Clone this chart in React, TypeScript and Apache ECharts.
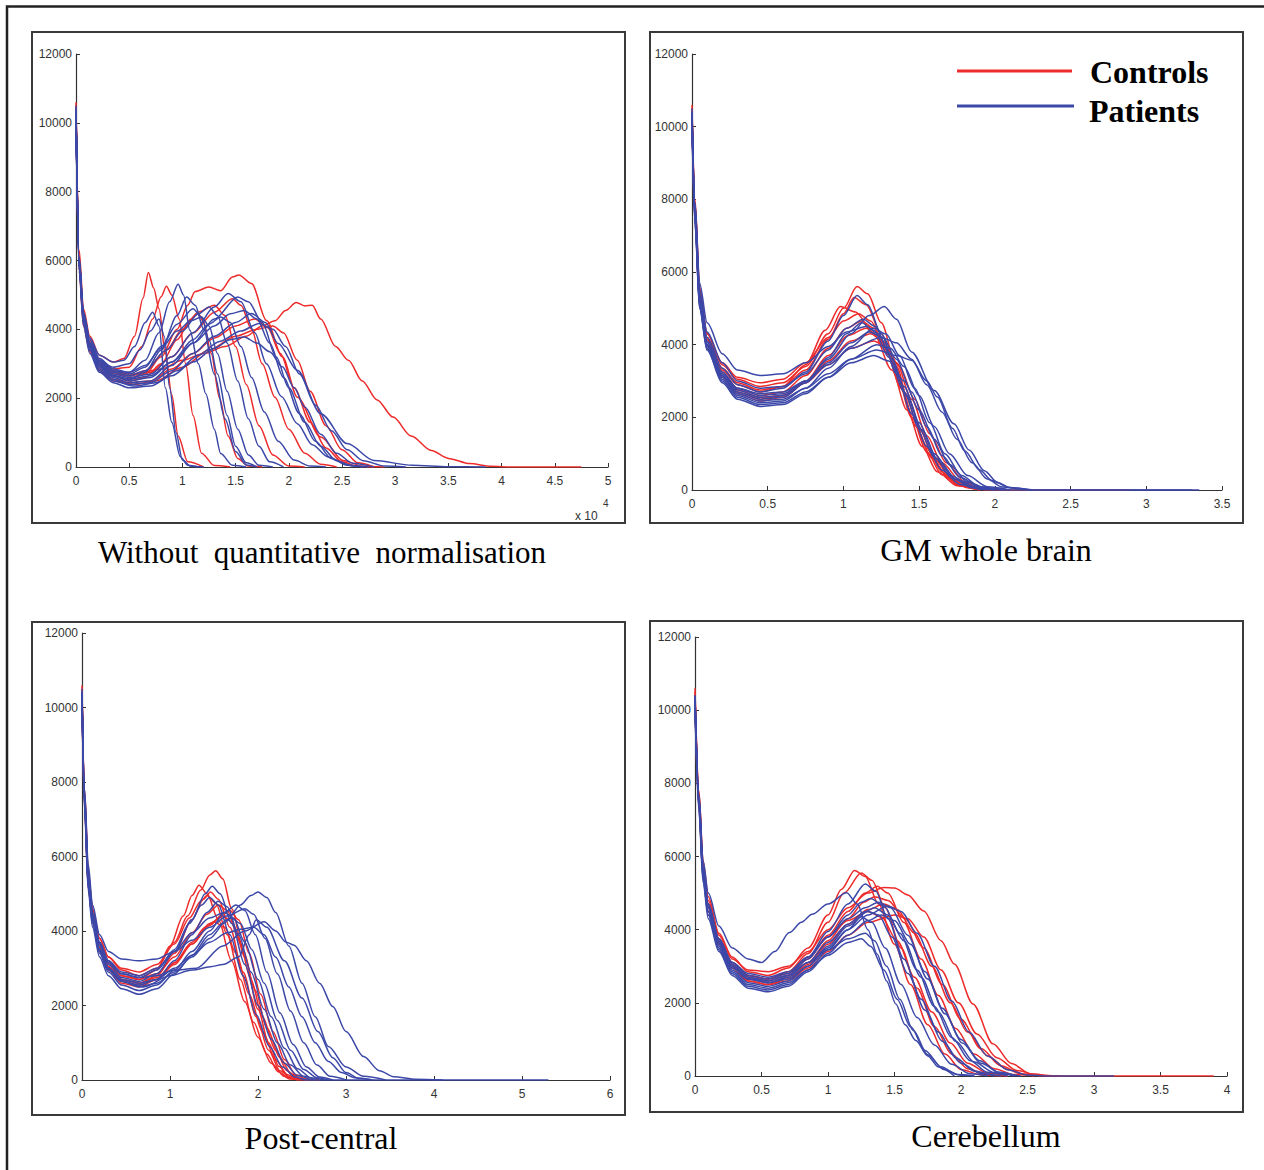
import React, { useEffect, useRef } from "react";
import * as echarts from "echarts";

const RED = "#ee2b2b";
const BLUE = "#3c48a8";

// ---------- Panel 1: Without quantitative normalisation (x in units of 10^4) ----------
const p1Controls: number[][] = [
  [0,10500, 0.03,6300, 0.07,4600, 0.13,3800, 0.22,3250, 0.35,3050, 0.45,3150, 0.55,3800, 0.63,4900, 0.68,5650, 0.73,5200, 0.78,4600, 0.84,3300, 0.9,2100, 0.96,900, 1.05,150, 1.2,0],
  [0,10300, 0.03,6000, 0.07,4400, 0.13,3650, 0.22,3100, 0.35,2850, 0.5,2900, 0.62,3500, 0.72,4300, 0.8,4950, 0.85,5250, 0.9,5000, 0.97,4300, 1.03,3000, 1.1,1500, 1.18,400, 1.3,40, 1.45,0],
  [0,10600, 0.03,6100, 0.07,4300, 0.13,3500, 0.22,2950, 0.35,2650, 0.5,2550, 0.65,2700, 0.8,3200, 0.95,4000, 1.05,4700, 1.12,5100, 1.25,5230, 1.36,5120, 1.47,5520, 1.53,5580, 1.65,5330, 1.79,4260, 1.94,3200, 2.08,2030, 2.3,870, 2.51,190, 2.7,20, 2.9,0],
  [0,10400, 0.03,6000, 0.07,4300, 0.13,3500, 0.22,3000, 0.35,2750, 0.55,2700, 0.8,2850, 1.0,3100, 1.2,3300, 1.4,3500, 1.6,3800, 1.75,4100, 1.87,4250, 1.97,4550, 2.07,4780, 2.15,4680, 2.22,4700, 2.3,4300, 2.44,3500, 2.56,3100, 2.69,2500, 2.83,1950, 2.98,1450, 3.15,900, 3.34,480, 3.5,250, 3.7,100, 3.9,20, 4.1,0, 4.75,0],
  [0,10200, 0.03,5900, 0.07,4300, 0.13,3500, 0.22,2950, 0.35,2650, 0.5,2500, 0.65,2600, 0.8,3000, 0.95,3700, 1.08,4300, 1.15,4460, 1.2,4200, 1.27,3300, 1.35,2000, 1.43,900, 1.52,250, 1.62,30, 1.75,0],
  [0,10500, 0.03,6000, 0.07,4400, 0.13,3600, 0.22,3050, 0.35,2750, 0.5,2650, 0.7,2750, 0.9,3200, 1.1,3900, 1.3,4500, 1.47,4890, 1.55,4700, 1.65,4000, 1.75,3000, 1.87,2030, 2.0,1100, 2.15,400, 2.3,80, 2.45,0],
  [0,10300, 0.03,5800, 0.07,4200, 0.13,3400, 0.22,2850, 0.35,2550, 0.5,2450, 0.7,2500, 0.9,2850, 1.1,3300, 1.3,3750, 1.5,4100, 1.68,4300, 1.8,4050, 1.92,3300, 2.05,2300, 2.2,1300, 2.35,550, 2.5,150, 2.65,20, 2.8,0],
  [0,10400, 0.03,5900, 0.07,4300, 0.13,3500, 0.22,2950, 0.35,2700, 0.5,2650, 0.65,2800, 0.85,3400, 1.0,4000, 1.15,4500, 1.3,4700, 1.4,4400, 1.5,3500, 1.6,2400, 1.72,1200, 1.85,350, 2.0,30, 2.15,0],
  [0,10200, 0.03,5700, 0.07,4100, 0.13,3350, 0.22,2800, 0.35,2500, 0.55,2400, 0.75,2500, 1.0,2900, 1.25,3400, 1.5,3800, 1.7,4000, 1.85,4100, 1.95,3900, 2.08,3100, 2.2,2200, 2.35,1200, 2.5,500, 2.65,120, 2.8,0],
];
const p1Patients: number[][] = [
  [0,10400, 0.03,6100, 0.07,4500, 0.13,3700, 0.22,3150, 0.35,2850, 0.5,2750, 0.65,3100, 0.78,3900, 0.88,4800, 0.96,5310, 1.01,5000, 1.07,3970, 1.15,3000, 1.22,2130, 1.3,1100, 1.36,390, 1.47,50, 1.6,0],
  [0,10200, 0.03,5900, 0.07,4300, 0.13,3500, 0.22,2950, 0.35,2650, 0.5,2550, 0.65,2750, 0.8,3400, 0.95,4400, 1.04,4940, 1.12,4700, 1.2,4000, 1.3,2700, 1.4,1400, 1.5,450, 1.6,60, 1.7,0],
  [0,10300, 0.03,6000, 0.07,4500, 0.13,3750, 0.22,3250, 0.35,3050, 0.45,3100, 0.55,3500, 0.65,4200, 0.72,4500, 0.78,4100, 0.84,2300, 0.9,1300, 0.98,300, 1.05,50, 1.15,0],
  [0,10100, 0.03,5800, 0.07,4300, 0.13,3600, 0.22,3100, 0.35,2900, 0.5,3000, 0.6,3400, 0.7,3950, 0.78,4300, 0.83,3800, 0.88,2300, 0.94,1000, 1.0,200, 1.08,20, 1.2,0],
  [0,10500, 0.03,6000, 0.07,4400, 0.13,3550, 0.22,3000, 0.35,2700, 0.5,2600, 0.7,2700, 0.9,3200, 1.1,3900, 1.3,4650, 1.43,5040, 1.55,4800, 1.68,3900, 1.79,3000, 1.93,2050, 2.08,1260, 2.22,650, 2.37,290, 2.55,60, 2.7,0],
  [0,10300, 0.03,5900, 0.07,4300, 0.13,3450, 0.22,2900, 0.35,2600, 0.5,2450, 0.7,2500, 0.9,2950, 1.1,3600, 1.3,4300, 1.52,4940, 1.62,4800, 1.75,4200, 1.88,3200, 2.0,2300, 2.15,1300, 2.3,600, 2.45,180, 2.6,30, 2.75,0],
  [0,10200, 0.03,5800, 0.07,4200, 0.13,3400, 0.22,2850, 0.35,2550, 0.5,2400, 0.7,2450, 0.9,2800, 1.1,3300, 1.3,3800, 1.5,4200, 1.65,4460, 1.78,4200, 1.9,3590, 2.08,2810, 2.3,1550, 2.55,680, 2.8,190, 3.16,50, 3.5,10, 3.85,0],
  [0,10100, 0.03,5700, 0.07,4100, 0.13,3300, 0.22,2750, 0.35,2450, 0.5,2300, 0.7,2350, 0.9,2650, 1.1,3050, 1.3,3450, 1.45,3700, 1.58,3780, 1.7,3600, 1.82,3350, 1.94,2910, 2.05,2300, 2.15,1740, 2.3,950, 2.45,400, 2.6,110, 2.8,0],
  [0,10400, 0.03,6000, 0.07,4400, 0.13,3600, 0.22,3050, 0.35,2750, 0.5,2650, 0.65,2800, 0.85,3400, 1.0,3950, 1.15,4450, 1.25,4650, 1.33,4400, 1.42,3600, 1.52,2500, 1.62,1400, 1.72,600, 1.82,150, 1.95,0],
  [0,10300, 0.03,5900, 0.07,4300, 0.13,3500, 0.22,2950, 0.35,2650, 0.5,2500, 0.7,2600, 0.9,3050, 1.1,3700, 1.25,4150, 1.36,4360, 1.45,4200, 1.55,3500, 1.65,2600, 1.77,1600, 1.9,750, 2.05,200, 2.2,30, 2.35,0],
  [0,10000, 0.03,5800, 0.07,4300, 0.13,3550, 0.22,3050, 0.35,2800, 0.5,2750, 0.65,2950, 0.8,3450, 0.95,3950, 1.08,4250, 1.18,4360, 1.25,4100, 1.33,3300, 1.42,2200, 1.52,1100, 1.62,350, 1.72,50, 1.85,0],
  [0,10300, 0.03,5900, 0.07,4200, 0.13,3400, 0.22,2800, 0.35,2500, 0.55,2350, 0.75,2450, 0.95,2800, 1.15,3250, 1.35,3650, 1.55,3950, 1.72,4170, 1.85,4000, 1.97,3500, 2.1,2700, 2.25,1800, 2.4,1050, 2.55,500, 2.7,180, 2.9,30, 3.1,0],
  [0,10200, 0.03,5900, 0.07,4350, 0.13,3600, 0.22,3100, 0.35,2800, 0.5,2700, 0.65,2900, 0.8,3500, 0.95,4150, 1.1,4600, 1.18,4350, 1.25,3700, 1.33,2700, 1.42,1500, 1.5,600, 1.6,120, 1.7,0],
  [0,10400, 0.03,6000, 0.07,4350, 0.13,3500, 0.22,2950, 0.35,2650, 0.5,2550, 0.7,2650, 0.9,3050, 1.1,3600, 1.3,4100, 1.45,4450, 1.58,4550, 1.7,4300, 1.82,3600, 1.95,2600, 2.1,1550, 2.25,750, 2.4,250, 2.55,50, 2.7,0],
];

// ---------- Panel 2: GM whole brain ----------
const p2Controls: number[][] = [
  [0,10600, 0.02,8000, 0.05,5600, 0.1,4300, 0.2,3450, 0.3,3050, 0.45,2850, 0.6,2950, 0.75,3400, 0.9,4300, 1.0,5000, 1.09,5600, 1.16,5400, 1.25,4600, 1.35,3400, 1.45,2100, 1.55,1150, 1.65,500, 1.75,150, 1.88,20, 2.0,0],
  [0,10400, 0.02,7800, 0.05,5400, 0.1,4200, 0.2,3350, 0.3,2950, 0.45,2750, 0.6,2850, 0.75,3300, 0.9,4150, 1.0,4850, 1.07,5300, 1.15,5100, 1.25,4300, 1.35,3200, 1.45,2000, 1.55,1050, 1.65,420, 1.78,100, 1.9,0],
  [0,10300, 0.02,7700, 0.05,5300, 0.1,4150, 0.2,3300, 0.3,2900, 0.45,2700, 0.6,2850, 0.75,3450, 0.88,4400, 0.98,5050, 1.08,4900, 1.2,4300, 1.32,3300, 1.42,2200, 1.52,1200, 1.62,500, 1.75,120, 1.9,0],
  [0,10500, 0.02,7700, 0.05,5300, 0.1,4100, 0.2,3250, 0.3,2800, 0.45,2600, 0.6,2700, 0.75,3150, 0.9,3900, 1.02,4450, 1.12,4650, 1.2,4450, 1.3,3700, 1.4,2700, 1.5,1700, 1.6,850, 1.72,280, 1.85,40, 2.0,0],
  [0,10200, 0.02,7500, 0.05,5100, 0.1,4000, 0.2,3150, 0.3,2700, 0.45,2500, 0.6,2600, 0.75,3000, 0.9,3700, 1.03,4250, 1.15,4450, 1.23,4250, 1.32,3600, 1.42,2600, 1.52,1600, 1.62,800, 1.75,250, 1.9,30, 2.05,0],
  [0,10400, 0.02,7900, 0.05,5500, 0.1,4300, 0.2,3500, 0.3,3100, 0.45,2950, 0.6,3050, 0.75,3500, 0.9,4200, 1.0,4650, 1.1,4850, 1.18,4650, 1.28,3900, 1.38,2800, 1.48,1750, 1.58,900, 1.7,300, 1.82,60, 1.95,0],
  [0,10300, 0.02,7600, 0.05,5200, 0.1,4000, 0.2,3100, 0.3,2650, 0.45,2450, 0.6,2550, 0.75,2950, 0.9,3550, 1.05,4100, 1.18,4300, 1.26,4100, 1.35,3500, 1.45,2500, 1.55,1500, 1.65,750, 1.78,220, 1.92,30, 2.1,0, 2.9,0],
  [0,10100, 0.02,7400, 0.05,5100, 0.1,3950, 0.2,3150, 0.3,2750, 0.45,2550, 0.6,2600, 0.75,2950, 0.9,3450, 1.05,3900, 1.2,4100, 1.28,3950, 1.37,3400, 1.47,2500, 1.57,1550, 1.68,750, 1.8,230, 1.95,30, 2.1,0],
];
const p2Patients: number[][] = [
  [0,10300, 0.02,7900, 0.05,5700, 0.1,4600, 0.2,3750, 0.3,3300, 0.45,3150, 0.6,3200, 0.75,3500, 0.9,3950, 1.02,4350, 1.15,4500, 1.23,4300, 1.32,3600, 1.42,2600, 1.52,1650, 1.62,850, 1.75,280, 1.9,50, 2.05,0],
  [0,10000, 0.02,7300, 0.05,5000, 0.1,3850, 0.2,3000, 0.3,2550, 0.45,2350, 0.6,2400, 0.75,2700, 0.9,3100, 1.05,3500, 1.2,3700, 1.3,3550, 1.4,3000, 1.5,2200, 1.6,1400, 1.7,700, 1.82,220, 1.95,40, 2.1,0],
  [0,10200, 0.02,7500, 0.05,5100, 0.1,3950, 0.2,3100, 0.3,2650, 0.45,2450, 0.6,2500, 0.75,2800, 0.9,3200, 1.05,3600, 1.22,3850, 1.35,3700, 1.45,3570, 1.55,3000, 1.62,2560, 1.72,1700, 1.8,1080, 1.9,550, 1.98,260, 2.1,60, 2.25,0],
  [0,10400, 0.02,7700, 0.05,5300, 0.1,4100, 0.2,3250, 0.3,2800, 0.45,2600, 0.6,2650, 0.75,3000, 0.9,3600, 1.05,4300, 1.17,4800, 1.27,5050, 1.35,4700, 1.45,3800, 1.6,2740, 1.73,1820, 1.83,1100, 1.93,530, 2.02,200, 2.1,70, 2.25,0, 3.3,0],
  [0,10500, 0.02,7900, 0.05,5400, 0.1,4200, 0.2,3350, 0.3,2900, 0.45,2700, 0.6,2800, 0.75,3250, 0.9,4100, 1.0,4800, 1.09,5350, 1.16,5100, 1.25,4300, 1.35,3200, 1.45,2100, 1.55,1200, 1.65,550, 1.77,150, 1.9,20, 2.0,0],
  [0,10200, 0.02,7500, 0.05,5200, 0.1,4000, 0.2,3150, 0.3,2700, 0.45,2500, 0.6,2550, 0.75,2950, 0.9,3650, 1.02,4300, 1.12,4600, 1.2,4400, 1.3,3650, 1.4,2700, 1.5,1700, 1.6,900, 1.72,320, 1.85,60, 2.0,0],
  [0,10300, 0.02,7600, 0.05,5200, 0.1,4000, 0.2,3150, 0.3,2750, 0.45,2550, 0.6,2600, 0.75,2950, 0.9,3500, 1.05,4050, 1.17,4350, 1.26,4200, 1.35,3600, 1.45,2700, 1.55,1750, 1.65,950, 1.77,350, 1.9,80, 2.05,0],
  [0,10100, 0.02,7300, 0.05,5000, 0.1,3850, 0.2,2950, 0.3,2500, 0.45,2300, 0.6,2350, 0.75,2650, 0.9,3100, 1.05,3600, 1.22,4000, 1.31,3900, 1.4,3400, 1.5,2600, 1.6,1750, 1.7,1000, 1.82,400, 1.95,90, 2.1,0],
  [0,10400, 0.02,7800, 0.05,5500, 0.1,4350, 0.2,3500, 0.3,3000, 0.45,2800, 0.6,2850, 0.75,3200, 0.9,3850, 1.02,4450, 1.13,4700, 1.21,4500, 1.3,3800, 1.4,2850, 1.5,1850, 1.6,1000, 1.72,380, 1.85,80, 2.0,0],
  [0,10200, 0.02,7500, 0.05,5200, 0.1,4050, 0.2,3200, 0.3,2800, 0.45,2650, 0.6,2700, 0.75,3000, 0.9,3450, 1.05,3900, 1.25,4200, 1.35,4050, 1.45,3600, 1.55,2900, 1.65,2150, 1.75,1400, 1.85,750, 1.95,300, 2.05,80, 2.2,0],
  [0,10300, 0.02,7400, 0.05,5100, 0.1,3900, 0.2,3050, 0.3,2600, 0.45,2400, 0.6,2450, 0.75,2800, 0.9,3350, 1.05,3950, 1.2,4450, 1.28,4300, 1.37,3700, 1.47,2800, 1.57,1850, 1.67,1000, 1.78,400, 1.9,90, 2.05,0, 3.35,0],
];

// ---------- Panel 3: Post-central ----------
const p3Controls: number[][] = [
  [0,10600, 0.03,7800, 0.07,5600, 0.12,4600, 0.2,3800, 0.3,3300, 0.45,2950, 0.65,2800, 0.85,3000, 1.05,3700, 1.2,4400, 1.35,5100, 1.45,5500, 1.52,5620, 1.6,5400, 1.7,4600, 1.85,3300, 2.0,1900, 2.12,1000, 2.24,360, 2.35,80, 2.46,0],
  [0,10400, 0.03,7600, 0.07,5400, 0.12,4450, 0.2,3650, 0.3,3150, 0.45,2800, 0.65,2700, 0.85,2950, 1.0,3600, 1.15,4400, 1.25,4950, 1.33,5230, 1.42,5000, 1.55,4300, 1.7,3200, 1.85,2100, 2.0,1150, 2.15,450, 2.3,100, 2.45,0],
  [0,10300, 0.03,7500, 0.07,5300, 0.12,4350, 0.2,3550, 0.3,3050, 0.45,2700, 0.65,2600, 0.85,2800, 1.05,3400, 1.25,4300, 1.38,4850, 1.46,5050, 1.55,4850, 1.68,4100, 1.83,2900, 1.98,1700, 2.12,800, 2.25,250, 2.38,40, 2.5,0],
  [0,10500, 0.03,7600, 0.07,5400, 0.12,4450, 0.2,3650, 0.3,3150, 0.45,2800, 0.65,2700, 0.85,2850, 1.05,3300, 1.25,3950, 1.42,4450, 1.55,4700, 1.65,4550, 1.78,3800, 1.92,2700, 2.05,1700, 2.2,800, 2.33,250, 2.45,40, 2.55,0],
  [0,10200, 0.03,7400, 0.07,5200, 0.12,4250, 0.2,3450, 0.3,2950, 0.45,2600, 0.65,2500, 0.85,2700, 1.05,3100, 1.25,3650, 1.45,4200, 1.6,4400, 1.7,4250, 1.83,3500, 1.97,2400, 2.1,1400, 2.25,600, 2.38,160, 2.5,20, 2.6,0],
  [0,10400, 0.03,7700, 0.07,5600, 0.12,4600, 0.2,3800, 0.3,3300, 0.45,3000, 0.65,2900, 0.85,3100, 1.05,3650, 1.22,4350, 1.35,4800, 1.42,4950, 1.52,4750, 1.65,3900, 1.8,2700, 1.95,1550, 2.1,700, 2.23,220, 2.36,30, 2.48,0],
  [0,10300, 0.03,7500, 0.07,5300, 0.12,4350, 0.2,3550, 0.3,3050, 0.45,2700, 0.65,2600, 0.85,2750, 1.05,3150, 1.25,3650, 1.45,4150, 1.6,4450, 1.68,4550, 1.78,4300, 1.9,3400, 2.03,2300, 2.17,1300, 2.3,550, 2.43,140, 2.55,20, 2.7,0],
  [0,10100, 0.03,7300, 0.07,5200, 0.12,4300, 0.2,3500, 0.3,3000, 0.45,2650, 0.65,2550, 0.85,2700, 1.05,3150, 1.25,3700, 1.4,4100, 1.5,4250, 1.62,4100, 1.75,3400, 1.9,2300, 2.05,1300, 2.2,550, 2.33,150, 2.45,20, 2.55,0],
];
const p3Patients: number[][] = [
  [0,10400, 0.03,7500, 0.07,5300, 0.12,4300, 0.2,3500, 0.3,3000, 0.45,2650, 0.65,2500, 0.85,2600, 1.05,2900, 1.25,3300, 1.45,3800, 1.65,4300, 1.8,4700, 1.92,4950, 2.0,5050, 2.1,4900, 2.2,4500, 2.35,3600, 2.5,2600, 2.65,1700, 2.8,900, 3.0,350, 3.2,100, 3.45,0],
  [0,10300, 0.03,7600, 0.07,5500, 0.12,4450, 0.2,3650, 0.3,3150, 0.45,2850, 0.65,2750, 0.85,2800, 1.05,2950, 1.3,3000, 1.6,3600, 1.85,4000, 2.07,4250, 2.2,4000, 2.32,3700, 2.41,3620, 2.55,3200, 2.7,2600, 2.85,1970, 3.0,1300, 3.2,630, 3.38,250, 3.54,90, 3.8,20, 4.1,0],
  [0,10200, 0.03,7400, 0.07,5300, 0.12,4300, 0.2,3450, 0.3,2950, 0.45,2650, 0.7,2500, 1.0,2800, 1.25,2950, 1.46,3040, 1.6,3100, 1.78,3300, 1.9,3900, 1.98,4300, 2.1,4100, 2.3,3200, 2.5,2200, 2.68,1300, 2.85,600, 3.0,200, 3.15,40, 3.3,0],
  [0,10300, 0.03,7500, 0.07,5400, 0.12,4400, 0.2,3600, 0.3,3100, 0.45,2750, 0.65,2650, 0.85,2850, 1.05,3450, 1.25,4300, 1.4,5000, 1.48,5200, 1.57,5000, 1.7,4200, 1.85,3100, 2.0,2000, 2.15,1100, 2.3,450, 2.45,120, 2.6,0],
  [0,10200, 0.03,7300, 0.07,5200, 0.12,4200, 0.2,3400, 0.3,2900, 0.45,2550, 0.65,2400, 0.85,2550, 1.05,2950, 1.25,3450, 1.45,4000, 1.62,4500, 1.75,4700, 1.85,4550, 1.97,3900, 2.1,2900, 2.25,1800, 2.4,950, 2.55,350, 2.7,80, 2.85,0],
  [0,10400, 0.03,7600, 0.07,5500, 0.12,4500, 0.2,3700, 0.3,3200, 0.45,2900, 0.65,2800, 0.85,3000, 1.05,3450, 1.25,3950, 1.45,4350, 1.62,4500, 1.72,4350, 1.85,3700, 2.0,2700, 2.15,1700, 2.3,850, 2.45,300, 2.6,60, 2.75,0],
  [0,10300, 0.03,7800, 0.07,5800, 0.12,4700, 0.2,3900, 0.3,3450, 0.45,3250, 0.65,3200, 0.85,3250, 1.05,3450, 1.25,3750, 1.45,4100, 1.65,4400, 1.85,4600, 1.95,4450, 2.08,3800, 2.22,2850, 2.37,1850, 2.52,1000, 2.67,400, 2.82,100, 3.0,0],
  [0,10100, 0.03,7200, 0.07,5100, 0.12,4100, 0.2,3300, 0.3,2800, 0.45,2450, 0.65,2300, 0.85,2450, 1.05,2850, 1.25,3350, 1.45,3900, 1.6,4200, 1.7,4350, 1.8,4200, 1.93,3500, 2.07,2600, 2.22,1600, 2.37,800, 2.52,280, 2.67,60, 2.8,0],
  [0,10300, 0.03,7400, 0.07,5300, 0.12,4300, 0.2,3500, 0.3,3000, 0.45,2650, 0.65,2550, 0.85,2700, 1.05,3200, 1.25,3900, 1.42,4500, 1.55,4800, 1.65,4650, 1.78,3900, 1.92,2900, 2.07,1900, 2.22,1000, 2.37,400, 2.52,100, 2.65,0],
  [0,10200, 0.03,7400, 0.07,5300, 0.12,4300, 0.2,3500, 0.3,3000, 0.45,2700, 0.65,2600, 0.85,2700, 1.05,3000, 1.25,3350, 1.45,3700, 1.65,3950, 1.8,4050, 1.95,4100, 2.07,3900, 2.2,3300, 2.35,2500, 2.5,1700, 2.65,1000, 2.8,500, 2.95,200, 3.1,60, 3.3,0],
  [0,10500, 0.03,7700, 0.07,5500, 0.12,4500, 0.2,3700, 0.3,3200, 0.45,2850, 0.65,2750, 0.85,2950, 1.05,3500, 1.22,4200, 1.36,4700, 1.45,4900, 1.55,4700, 1.68,3900, 1.83,2800, 1.98,1750, 2.13,900, 2.28,350, 2.42,80, 2.55,0, 5.3,0],
];

// ---------- Panel 4: Cerebellum ----------
const p4Controls: number[][] = [
  [0,10600, 0.03,7800, 0.06,5900, 0.1,4900, 0.18,3900, 0.28,3250, 0.4,2850, 0.55,2750, 0.7,2950, 0.85,3500, 1.0,4400, 1.1,5100, 1.2,5620, 1.28,5450, 1.38,4700, 1.5,3600, 1.62,2500, 1.75,1400, 1.88,600, 2.0,180, 2.15,30, 2.3,0],
  [0,10400, 0.03,7600, 0.06,5700, 0.1,4700, 0.18,3750, 0.28,3100, 0.4,2750, 0.55,2650, 0.7,2850, 0.85,3350, 1.0,4200, 1.12,5000, 1.25,5550, 1.33,5350, 1.43,4600, 1.55,3500, 1.67,2400, 1.8,1350, 1.93,600, 2.05,200, 2.2,30, 2.35,0],
  [0,10500, 0.03,7700, 0.06,5800, 0.1,4800, 0.18,3850, 0.28,3200, 0.4,2900, 0.55,2850, 0.7,3000, 0.85,3400, 1.0,4000, 1.15,4600, 1.3,5000, 1.42,5150, 1.5,5140, 1.6,4950, 1.72,4510, 1.85,3700, 1.95,3060, 2.09,1970, 2.24,880, 2.38,340, 2.52,60, 2.7,0, 3.9,0],
  [0,10300, 0.03,7500, 0.06,5600, 0.1,4650, 0.18,3700, 0.28,3050, 0.4,2700, 0.55,2600, 0.7,2750, 0.85,3200, 1.0,3850, 1.15,4500, 1.28,5000, 1.37,5190, 1.45,5000, 1.57,4200, 1.7,3200, 1.83,2200, 1.96,1300, 2.1,600, 2.25,200, 2.4,40, 2.55,0],
  [0,10200, 0.03,7400, 0.06,5500, 0.1,4500, 0.18,3600, 0.28,2950, 0.4,2600, 0.55,2500, 0.7,2650, 0.85,3050, 1.0,3600, 1.15,4150, 1.3,4550, 1.42,4700, 1.52,4550, 1.65,3900, 1.78,3000, 1.92,2000, 2.05,1200, 2.2,550, 2.35,180, 2.5,30, 2.65,0],
  [0,10400, 0.03,7600, 0.06,5700, 0.1,4700, 0.18,3750, 0.28,3100, 0.4,2750, 0.55,2650, 0.7,2800, 0.85,3250, 1.0,3800, 1.15,4250, 1.3,4500, 1.4,4350, 1.52,3700, 1.65,2700, 1.78,1750, 1.92,900, 2.05,350, 2.2,80, 2.35,0],
  [0,10300, 0.03,7500, 0.06,5600, 0.1,4600, 0.18,3650, 0.28,3000, 0.4,2650, 0.55,2550, 0.7,2700, 0.85,3100, 1.0,3700, 1.15,4300, 1.27,4750, 1.35,4900, 1.45,4800, 1.58,4300, 1.72,3500, 1.86,2500, 2.0,1550, 2.15,750, 2.3,280, 2.45,60, 2.6,0],
  [0,10100, 0.03,7300, 0.06,5500, 0.1,4500, 0.18,3600, 0.28,2950, 0.4,2600, 0.55,2500, 0.7,2600, 0.85,2950, 1.0,3400, 1.15,3850, 1.3,4200, 1.5,4400, 1.6,4300, 1.72,3800, 1.85,2900, 1.98,2000, 2.12,1150, 2.27,500, 2.42,150, 2.58,20, 2.75,0],
];
const p4Patients: number[][] = [
  [0,10300, 0.03,7700, 0.06,5900, 0.1,5000, 0.18,4100, 0.28,3500, 0.4,3200, 0.5,3100, 0.6,3400, 0.71,3920, 0.8,4200, 0.88,4420, 1.0,4700, 1.14,5010, 1.22,4700, 1.3,4000, 1.37,3330, 1.44,2600, 1.51,1970, 1.58,1400, 1.66,970, 1.75,550, 1.83,245, 1.95,0],
  [0,10400, 0.03,7600, 0.06,5700, 0.1,4700, 0.18,3750, 0.28,3100, 0.4,2750, 0.55,2650, 0.7,2800, 0.85,3250, 1.0,3950, 1.15,4700, 1.28,5250, 1.36,5050, 1.45,4300, 1.57,3200, 1.7,2100, 1.83,1200, 1.96,500, 2.1,130, 2.25,0],
  [0,10100, 0.03,7300, 0.06,5400, 0.1,4400, 0.18,3500, 0.28,2850, 0.4,2500, 0.55,2400, 0.7,2550, 0.85,2900, 1.0,3300, 1.15,3650, 1.25,3750, 1.32,3550, 1.42,2900, 1.52,2100, 1.62,1350, 1.73,700, 1.85,250, 1.97,40, 2.1,0],
  [0,10300, 0.03,7500, 0.06,5600, 0.1,4600, 0.18,3650, 0.28,3000, 0.4,2650, 0.55,2550, 0.7,2700, 0.85,3100, 1.0,3650, 1.15,4150, 1.28,4500, 1.35,4600, 1.45,4400, 1.57,3700, 1.7,2700, 1.83,1750, 1.96,950, 2.1,380, 2.25,90, 2.4,0],
  [0,10200, 0.03,7500, 0.06,5600, 0.1,4650, 0.18,3700, 0.28,3050, 0.4,2700, 0.55,2600, 0.7,2750, 0.85,3200, 1.0,3800, 1.15,4400, 1.25,4750, 1.32,4850, 1.42,4650, 1.54,3900, 1.67,2900, 1.8,1900, 1.93,1050, 2.07,420, 2.2,100, 2.35,0],
  [0,10000, 0.03,7200, 0.06,5300, 0.1,4300, 0.18,3400, 0.28,2750, 0.4,2400, 0.55,2300, 0.7,2450, 0.85,2850, 1.0,3350, 1.15,3850, 1.3,4250, 1.4,4400, 1.5,4250, 1.62,3600, 1.75,2650, 1.88,1700, 2.01,900, 2.15,350, 2.3,70, 2.45,0],
  [0,10200, 0.03,7400, 0.06,5500, 0.1,4500, 0.18,3550, 0.28,2900, 0.4,2550, 0.55,2450, 0.7,2600, 0.85,3000, 1.0,3550, 1.15,4100, 1.3,4500, 1.38,4400, 1.48,3800, 1.6,2800, 1.73,1800, 1.86,950, 2.0,350, 2.15,70, 2.3,0],
  [0,10300, 0.03,7500, 0.06,5600, 0.1,4600, 0.18,3650, 0.28,3000, 0.4,2650, 0.55,2550, 0.7,2650, 0.85,3000, 1.0,3500, 1.15,4000, 1.3,4400, 1.45,4650, 1.55,4500, 1.67,3900, 1.8,3000, 1.93,2050, 2.06,1200, 2.2,550, 2.35,170, 2.5,30, 2.65,0, 3.15,0],
  [0,10200, 0.03,7400, 0.06,5500, 0.1,4500, 0.18,3600, 0.28,2950, 0.4,2650, 0.55,2600, 0.7,2750, 0.85,3100, 1.0,3450, 1.15,3750, 1.28,3900, 1.35,3700, 1.44,3000, 1.54,2100, 1.64,1250, 1.75,580, 1.87,180, 2.0,20, 2.1,0],
  [0,10400, 0.03,7600, 0.06,5700, 0.1,4700, 0.18,3750, 0.28,3100, 0.4,2800, 0.55,2700, 0.7,2850, 0.85,3250, 1.0,3800, 1.15,4300, 1.28,4600, 1.38,4750, 1.47,4600, 1.6,3850, 1.73,2850, 1.86,1850, 2.0,1000, 2.14,420, 2.28,110, 2.42,0],
  [0,10300, 0.03,7400, 0.06,5400, 0.1,4400, 0.18,3450, 0.28,2800, 0.4,2450, 0.55,2350, 0.7,2500, 0.85,2900, 1.0,3450, 1.15,4000, 1.25,4350, 1.33,4200, 1.43,3500, 1.55,2500, 1.67,1600, 1.8,850, 1.93,320, 2.07,60, 2.2,0],
];

const panelTitles = ["Without  quantitative  normalisation", "GM whole brain", "Post-central", "Cerebellum"];
const xMaxes = [5, 3.5, 6, 4];
const xIntervals = [0.5, 0.5, 1, 0.5];
const yMax = 12000;
const yInterval = 2000;
const legendLabels = ["Controls", "Patients"];
const multiplierText = ["x 10", "4"];
const controlsData = [p1Controls, p2Controls, p3Controls, p4Controls];
const patientsData = [p1Patients, p2Patients, p3Patients, p4Patients];

// layout (pixels)
const grids = [
  { left: 76, top: 54, width: 532, height: 413 },
  { left: 692, top: 54, width: 530, height: 436 },
  { left: 82, top: 633, width: 528, height: 447 },
  { left: 695, top: 637, width: 532, height: 439 },
];
const frames = [
  [32, 32, 593, 491],
  [650, 32, 593, 491],
  [32, 622, 593, 493],
  [650, 621, 593, 491],
];
const titlePos = [
  [322, 552],
  [986, 550],
  [321, 1138],
  [986, 1136],
];
const titleSizes = [31, 32, 32, 32];

function toPairs(flat: number[]): number[][] {
  const out: number[][] = [];
  for (let i = 0; i < flat.length; i += 2) out.push([flat[i], flat[i + 1]]);
  return out;
}

export default function App() {
  const ref = useRef<HTMLDivElement>(null);
  useEffect(() => {
    if (!ref.current) return;
    const chart = echarts.init(ref.current, undefined, { renderer: "svg" });
    const axisColor = "#333";
    const labelStyle = { color: "#333", fontSize: 12, fontFamily: "Liberation Sans, Arial, sans-serif" };
    const serif = '"Liberation Serif", "Times New Roman", serif';

    const series: any[] = [];
    for (let i = 0; i < 4; i++) {
      const add = (curves: number[][], color: string) => {
        curves.forEach((c) => {
          series.push({
            type: "line",
            xAxisIndex: i,
            yAxisIndex: i,
            data: toPairs(c),
            showSymbol: false,
            symbol: "none",
            smooth: 0.3,
            smoothMonotone: "x",
            silent: true,
            lineStyle: { color, width: 1.5 },
            itemStyle: { color },
          });
        });
      };
      add(controlsData[i], RED);
      add(patientsData[i], BLUE);
    }

    const graphic: any[] = [];
    graphic.push({
      type: "polyline",
      silent: true,
      shape: { points: [[7, 1170], [7, 6.5], [1264, 6.5]] },
      style: { stroke: "#222", lineWidth: 2.5, fill: "none" },
    });
    frames.forEach((f) => {
      graphic.push({
        type: "rect",
        silent: true,
        shape: { x: f[0], y: f[1], width: f[2], height: f[3] },
        style: { stroke: "#3a3a3a", lineWidth: 2, fill: "none" },
      });
    });
    panelTitles.forEach((t, i) => {
      graphic.push({
        type: "text",
        silent: true,
        x: titlePos[i][0],
        y: titlePos[i][1],
        style: {
          text: t,
          font: titleSizes[i] + "px " + serif,
          fill: "#000",
          align: "center",
          verticalAlign: "middle",
        },
      });
    });
    graphic.push({ type: "line", silent: true, shape: { x1: 957, y1: 71, x2: 1072, y2: 71 }, style: { stroke: RED, lineWidth: 3 } });
    graphic.push({ type: "line", silent: true, shape: { x1: 957, y1: 106, x2: 1074, y2: 106 }, style: { stroke: BLUE, lineWidth: 3 } });
    graphic.push({
      type: "text", silent: true, x: 1090, y: 72,
      style: { text: legendLabels[0], font: "bold 32px " + serif, fill: "#000", align: "left", verticalAlign: "middle" },
    });
    graphic.push({
      type: "text", silent: true, x: 1089, y: 111,
      style: { text: legendLabels[1], font: "bold 32px " + serif, fill: "#000", align: "left", verticalAlign: "middle" },
    });
    graphic.push({
      type: "text", silent: true, x: 575, y: 516,
      style: { text: multiplierText[0], font: '12px "Liberation Sans", Arial, sans-serif', fill: "#333", align: "left", verticalAlign: "middle" },
    });
    graphic.push({
      type: "text", silent: true, x: 603, y: 503,
      style: { text: multiplierText[1], font: '10px "Liberation Sans", Arial, sans-serif', fill: "#333", align: "left", verticalAlign: "middle" },
    });

    chart.setOption({
      animation: false,
      backgroundColor: "#fff",
      grid: grids.map((g) => ({ ...g, containLabel: false })),
      xAxis: grids.map((_, i) => ({
        type: "value",
        gridIndex: i,
        min: 0,
        max: xMaxes[i],
        interval: xIntervals[i],
        axisLine: { show: true, onZero: false, lineStyle: { color: axisColor, width: 1.2 } },
        axisTick: { show: true, inside: true, length: 4, lineStyle: { color: axisColor } },
        axisLabel: { ...labelStyle, margin: 8, formatter: (v: number) => String(v) },
        splitLine: { show: false },
      })),
      yAxis: grids.map((_, i) => ({
        type: "value",
        gridIndex: i,
        min: 0,
        max: yMax,
        interval: yInterval,
        axisLine: { show: true, onZero: false, lineStyle: { color: axisColor, width: 1.2 } },
        axisTick: { show: true, inside: true, length: 4, lineStyle: { color: axisColor } },
        axisLabel: { ...labelStyle, margin: 4, formatter: (v: number) => String(v) },
        splitLine: { show: false },
      })),
      series,
      graphic,
    });
    return () => chart.dispose();
  }, []);
  return (
    <div
      ref={ref}
      style={{ position: "absolute", left: 0, top: 0, width: 1264, height: 1170, background: "#fff" }}
    />
  );
}
